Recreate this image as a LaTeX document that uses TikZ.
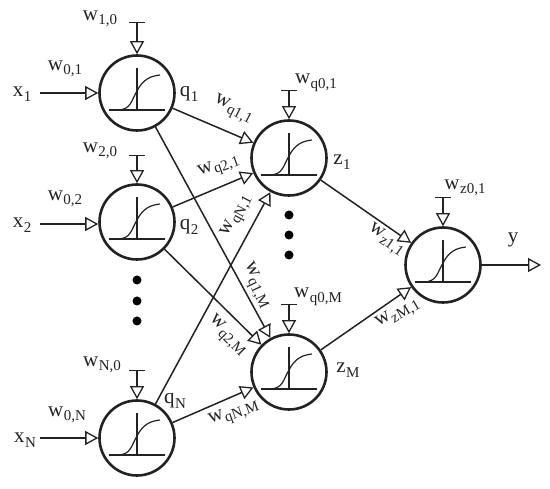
\documentclass[tikz,border=0pt]{standalone}
\usepackage{fontspec}
\setmainfont{Liberation Serif}
\usetikzlibrary{arrows.meta}
\definecolor{ink}{HTML}{222222}
\newcommand{\bigt}[1]{{\fontsize{21}{24}\selectfont #1}}
\newcommand{\subt}[2]{{\fontsize{21}{24}\selectfont #1\kern0.5pt\raisebox{-4.5pt}{\fontsize{15}{16}\selectfont #2}}}
\tikzset{
  x=1pt,y=-1pt,
  neuron/.style={circle,draw=ink,line width=2.6pt,minimum size=75pt,inner sep=0pt,
    path picture={
      \begin{scope}[shift={(path picture bounding box.center)},line width=1.2pt,draw=ink]
        \draw[ink] (-28,17) -- (28,17);
        \draw[ink] (0,-25) -- (0,17);
        \draw[ink] (-20,17) .. controls (-6,17) and (-6,8) .. (0,-2) .. controls (6,-14) and (14,-17) .. (23,-18);
      \end{scope}}},
  tipT/.tip={Triangle[length=13pt,width=14pt,line width=1.3pt,fill=white]},
  conn/.style={draw=ink,line width=1.5pt,-tipT},
  inp/.style={draw=ink,line width=1.9pt,-tipT},
  bias/.style={draw=ink,line width=1.6pt,{Bar[width=16pt,line width=1.4pt]}-tipT},
  lbl/.style={inner sep=0pt,text=ink},
  dotn/.style={circle,fill=black,minimum size=9pt,inner sep=0pt}
}
\begin{document}
\begin{tikzpicture}
\useasboundingbox (0,0) rectangle (550,489);
% neurons
\node[neuron] (q1) at (137,93) {};
\node[neuron] (q2) at (137,222) {};
\node[neuron] (qN) at (137,438) {};
\node[neuron] (z1) at (289,158) {};
\node[neuron] (zM) at (289,372) {};
\node[neuron] (o) at (443,265) {};
% free ends
\coordinate (i1) at (40,93);
\coordinate (i2) at (40,224);
\coordinate (iN) at (40,438);
\coordinate (b1) at (137,22);
\coordinate (b2) at (137,155);
\coordinate (bN) at (137,370);
\coordinate (bz1) at (289,90);
\coordinate (bzM) at (289,304);
\coordinate (bo) at (443,197);
\coordinate (out) at (541,265);
% connectors
\draw[inp] (i1) -- (q1);
\draw[inp] (i2) -- (q2.west |- i2);
\draw[inp] (iN) -- (qN);
\draw[bias] (b1) -- (q1);
\draw[bias] (b2) -- (q2);
\draw[bias] (bN) -- (qN);
\draw[bias] (bz1) -- (z1);
\draw[bias] (bzM) -- (zM);
\draw[bias] (bo) -- (o);
\draw[conn] (q1) -- (z1);
\draw[conn] (q1) -- (zM);
\draw[conn] (q2) -- (z1);
\draw[conn] (q2) -- (zM);
\draw[conn] (qN) -- (z1);
\draw[conn] (qN) -- (zM);
\draw[conn] (z1) -- (o);
\draw[conn] (zM) -- (o);
\draw[inp] (o) -- (out);
% dots
\node[dotn] (d1) at (137,280) {};
\node[dotn] (d2) at (137,301) {};
\node[dotn] (d3) at (137,321) {};
\node[dotn] (d4) at (289,215) {};
\node[dotn] (d5) at (289,235) {};
\node[dotn] (d6) at (289,255) {};
% labels
\node[lbl] (l1) at (100,19) {\subt{w}{1,0}};
\node[lbl] (l2) at (65,69) {\subt{w}{0,1}};
\node[lbl] (l3) at (22,94) {\subt{x}{1}};
\node[lbl] (l4) at (189,94) {\subt{q}{1}};
\node[lbl] (l5) at (100,151) {\subt{w}{2,0}};
\node[lbl] (l6) at (65,199) {\subt{w}{0,2}};
\node[lbl] (l7) at (22,225) {\subt{x}{2}};
\node[lbl] (l8) at (189,227) {\subt{q}{2}};
\node[lbl] (l9) at (102,365) {\subt{w}{N,0}};
\node[lbl] (l10) at (67,415) {\subt{w}{0,N}};
\node[lbl] (l11) at (25,440) {\subt{x}{N}};
\node[lbl] (l12) at (175,401) {\subt{q}{N}};
\node[lbl] (l13) at (316,83) {\subt{w}{q0,1}};
\node[lbl] (l14) at (342,162) {\subt{z}{1}};
\node[lbl] (l15) at (465,188) {\subt{w}{z0,1}};
\node[lbl] (l16) at (513,240) {\bigt{y}};
\node[lbl] (l17) at (318,297) {\subt{w}{q0,M}};
\node[lbl] (l18) at (348,370) {\subt{z}{M}};
\node[lbl,rotate=-27] (l19) at (233,110) {\subt{w}{q1,1}};
\node[lbl,rotate=20] (l20) at (219,167) {\subt{w}{q2,1}};
\node[lbl,rotate=62] (l21) at (237,216) {\subt{w}{qN,1}};
\node[lbl,rotate=-65] (l22) at (256,286) {\subt{w}{q1,M}};
\node[lbl,rotate=-45] (l23) at (227,336) {\subt{w}{q2,M}};
\node[lbl,rotate=20] (l24) at (234,414) {\subt{w}{qN,M}};
\node[lbl,rotate=-35] (l25) at (386,240) {\subt{w}{z1,1}};
\node[lbl,rotate=30] (l26) at (398,314) {\subt{w}{zM,1}};
\end{tikzpicture}
\end{document}
